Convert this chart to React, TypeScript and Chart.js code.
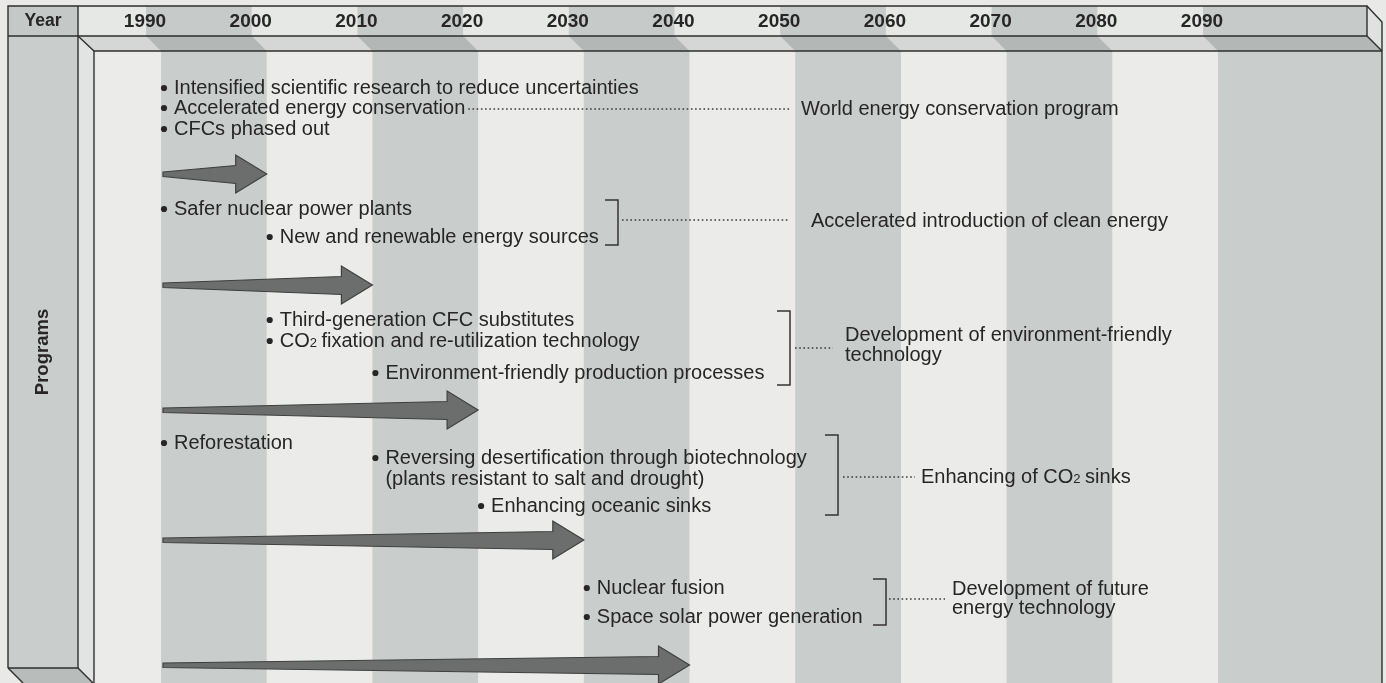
import React, { useEffect, useRef } from "react";
import { Chart, registerables } from "chart.js";
Chart.register(...registerables);

// ---------- data ----------
const yearTicks = [1990, 2000, 2010, 2020, 2030, 2040, 2050, 2060, 2070, 2080, 2090];
const yearTickLabels = ["1990", "2000", "2010", "2020", "2030", "2040", "2050", "2060", "2070", "2080", "2090"];
const shadedDecades = [1990, 2010, 2030, 2050, 2070, 2090];
const programStart = 1990;
const programEnds = [2000, 2010, 2020, 2030, 2040];

const group1Measures = ["Intensified scientific research to reduce uncertainties", "Accelerated energy conservation", "CFCs phased out"];
const group1Starts = [1990, 1990, 1990];
const group2Measures = ["Safer nuclear power plants", "New and renewable energy sources"];
const group2Starts = [1990, 2000];
const group3Measures = ["Third-generation CFC substitutes", "CO₂ fixation and re-utilization technology", "Environment-friendly production processes"];
const group3Starts = [2000, 2000, 2010];
const group4Measures = ["Reforestation", "Reversing desertification through biotechnology", "Enhancing oceanic sinks"];
const group4Starts = [1990, 2010, 2020];
const group4Note = "(plants resistant to salt and drought)";
const group5Measures = ["Nuclear fusion", "Space solar power generation"];
const group5Starts = [2030, 2030];

const programGoals = [
  ["World energy conservation program"],
  ["Accelerated introduction of clean energy"],
  ["Development of environment-friendly", "technology"],
  ["Enhancing of CO₂ sinks"],
  ["Development of future", "energy technology"],
];

// ---------- layout (pixels) ----------
const W = 1386, H = 683;
const PX1990 = 161, PX2090 = 1218;
const PPY = (PX2090 - PX1990) / 100;
const XMIN = 1990 - PX1990 / PPY;
const XMAX = XMIN + W / PPY;
const HDX = -15; // header stripe offset

const arrowRows = [174, 285, 410, 540, 665];
const g1Y = [88, 108, 129];
const g2Y = [209, 237];
const g3Y = [320, 341, 373];
const g4Y = [443, 458, 506];
const g4NoteY = 479;
const g5Y = [588, 617];

const FONT = '"Liberation Sans", Arial, Helvetica, sans-serif';
const TEXT = "#262626";

function drawRich(ctx: CanvasRenderingContext2D, s: string, x: number, y: number, size: number) {
  const parts = s.split("₂");
  let cx = x;
  parts.forEach((p, i) => {
    ctx.font = `${size}px ${FONT}`;
    ctx.fillText(p, cx, y);
    cx += ctx.measureText(p).width;
    if (i < parts.length - 1) {
      ctx.font = `${Math.round(size * 0.65)}px ${FONT}`;
      ctx.fillText("2", cx, y + size * 0.12);
      cx += ctx.measureText("2").width - 1;
    }
  });
  return cx;
}

const infographic = {
  id: "infographic",
  beforeDatasetsDraw(chart: any) {
    const ctx: CanvasRenderingContext2D = chart.ctx;
    const xs = chart.scales.x;
    const ys = chart.scales.y;
    const X = (v: number) => xs.getPixelForValue(v);
    const Y = (v: number) => ys.getPixelForValue(v);
    ctx.save();
    ctx.textBaseline = "middle";

    ctx.fillStyle = "#e9eae8";
    ctx.fillRect(0, 0, W, H);

    const L0 = 8, L1 = 78, B0 = 94, R0 = 1367, R1 = 1382, T0 = 6, T1 = 36, T2 = 51;
    const LIGHT = "#ebecea", GRAY = "#c9cdcb";

    // body
    ctx.fillStyle = LIGHT;
    ctx.fillRect(B0, T2, R1 - B0, H - T2);
    ctx.fillStyle = GRAY;
    shadedDecades.forEach((d) => {
      const a = X(d);
      const b = d === 2090 ? R1 : X(d + 10);
      ctx.fillRect(a, T2, b - a, H - T2);
    });

    // header front face
    ctx.fillStyle = "#e6e8e6";
    ctx.fillRect(L1, T0, R0 - L1, T1 - T0);
    ctx.fillStyle = "#c6cac8";
    shadedDecades.forEach((d) => {
      const a = X(d) + HDX;
      const b = d === 2090 ? R0 : X(d + 10) + HDX;
      ctx.fillRect(a, T0, b - a, T1 - T0);
    });
    // header underside face
    ctx.save();
    ctx.beginPath();
    ctx.moveTo(L1, T1); ctx.lineTo(R0, T1); ctx.lineTo(R1, T2); ctx.lineTo(B0, T2); ctx.closePath();
    ctx.fillStyle = "#d4d7d5";
    ctx.fill();
    ctx.clip();
    ctx.fillStyle = "#b3b7b5";
    shadedDecades.forEach((d) => {
      const a = X(d);
      const b = d === 2090 ? R1 + 20 : X(d + 10);
      ctx.beginPath();
      ctx.moveTo(a + HDX, T1); ctx.lineTo(b + HDX, T1); ctx.lineTo(b, T2); ctx.lineTo(a, T2); ctx.closePath();
      ctx.fill();
    });
    ctx.restore();
    // header right side face
    ctx.beginPath();
    ctx.moveTo(R0, T0); ctx.lineTo(R1, T0 + 16); ctx.lineTo(R1, T2); ctx.lineTo(R0, T1); ctx.closePath();
    ctx.fillStyle = "#dfe2e0";
    ctx.fill();

    // side face of programs column
    ctx.beginPath();
    ctx.moveTo(L1, T1); ctx.lineTo(B0, T2); ctx.lineTo(B0, H); ctx.lineTo(L1, H); ctx.closePath();
    ctx.fillStyle = "#e1e4e2";
    ctx.fill();
    ctx.fillStyle = "#c4c8c6";
    ctx.fillRect(L0, T0, L1 - L0, T1 - T0);
    ctx.fillStyle = "#c9cdcb";
    ctx.fillRect(L0, T1, L1 - L0, 668 - T1);
    ctx.beginPath();
    ctx.moveTo(L0, 668); ctx.lineTo(L1, 668); ctx.lineTo(L1 + 15, H); ctx.lineTo(L0 + 15, H); ctx.closePath();
    ctx.fillStyle = "#b8bcba";
    ctx.fill();

    // frame lines
    ctx.strokeStyle = "#2e2f2e";
    ctx.lineWidth = 1.4;
    const line = (pts: number[][]) => {
      ctx.beginPath();
      ctx.moveTo(pts[0][0], pts[0][1]);
      for (let i = 1; i < pts.length; i++) ctx.lineTo(pts[i][0], pts[i][1]);
      ctx.stroke();
    };
    line([[L0, 668], [L0, T0], [R0, T0], [R0, T1], [L0, T1]]);
    line([[L1, T0], [L1, 668]]);
    line([[R0, T0], [R1, T0 + 16], [R1, H]]);
    line([[R0, T1], [R1, T2]]);
    line([[L1, T1], [B0, T2], [R1, T2]]);
    line([[B0, T2], [B0, H]]);
    line([[L0, 668], [L1, 668]]);
    line([[L0, 668], [L0 + 15, H]]);
    line([[L1, 668], [L1 + 15, H]]);

    // header texts
    ctx.fillStyle = TEXT;
    ctx.textAlign = "center";
    ctx.font = `bold 17.5px ${FONT}`;
    ctx.fillText("Year", (L0 + L1) / 2, 21.5);
    ctx.font = `bold 19px ${FONT}`;
    yearTicks.forEach((yr, i) => {
      ctx.fillText(yearTickLabels[i], X(yr) + HDX - 1, 21.5);
    });
    ctx.save();
    ctx.translate((L0 + L1) / 2, 352);
    ctx.rotate(-Math.PI / 2);
    ctx.font = `bold 18.5px ${FONT}`;
    ctx.fillText("Programs", 0, 0);
    ctx.restore();
    ctx.textAlign = "left";

    // arrows
    programEnds.forEach((end, i) => {
      const y = Y(arrowRows[i]);
      const tail = X(programStart) + 2;
      const tip = X(end);
      const hb = tip - 31;
      ctx.beginPath();
      ctx.moveTo(tail, y - 2);
      ctx.lineTo(hb, y - 8.5);
      ctx.lineTo(hb, y - 19);
      ctx.lineTo(tip, y);
      ctx.lineTo(hb, y + 19);
      ctx.lineTo(hb, y + 9.5);
      ctx.lineTo(tail, y + 2.5);
      ctx.closePath();
      ctx.fillStyle = "#6b6e6c";
      ctx.fill();
      ctx.strokeStyle = "#3e403f";
      ctx.lineWidth = 1.2;
      ctx.stroke();
    });

    // measures
    const SZ = 20;
    const bullet = (yr: number, y: number) => {
      ctx.beginPath();
      ctx.arc(X(yr) + 3, Y(y), 3.1, 0, Math.PI * 2);
      ctx.fillStyle = TEXT;
      ctx.fill();
    };
    const measure = (txt: string, yr: number, y: number) => {
      bullet(yr, y);
      ctx.fillStyle = TEXT;
      return drawRich(ctx, txt, X(yr) + 13, Y(y), SZ);
    };
    const dotted = (x0: number, x1: number, y: number) => {
      ctx.save();
      ctx.setLineDash([1.6, 2.6]);
      ctx.strokeStyle = "#3a3a3a";
      ctx.lineWidth = 1.3;
      ctx.beginPath();
      ctx.moveTo(x0, Y(y));
      ctx.lineTo(x1, Y(y));
      ctx.stroke();
      ctx.restore();
    };
    const bracket = (x: number, y0: number, y1: number) => {
      ctx.strokeStyle = "#333";
      ctx.lineWidth = 1.5;
      ctx.beginPath();
      ctx.moveTo(x - 13, Y(y0));
      ctx.lineTo(x, Y(y0));
      ctx.lineTo(x, Y(y1));
      ctx.lineTo(x - 13, Y(y1));
      ctx.stroke();
    };
    const goal = (lines: string[], x: number, ys0: number[]) => {
      ctx.fillStyle = TEXT;
      lines.forEach((l, i) => drawRich(ctx, l, x, Y(ys0[i]), SZ));
    };

    const ends: number[] = [];
    group1Measures.forEach((m, i) => ends.push(measure(m, group1Starts[i], g1Y[i])));
    dotted(ends[1] + 3, 790, g1Y[1] + 1);
    goal(programGoals[0], 801, [g1Y[1] + 1]);

    group2Measures.forEach((m, i) => measure(m, group2Starts[i], g2Y[i]));
    bracket(618, 200, 245);
    dotted(622, 790, 220);
    goal(programGoals[1], 811, [221]);

    group3Measures.forEach((m, i) => measure(m, group3Starts[i], g3Y[i]));
    bracket(790, 311, 385);
    dotted(795, 833, 348);
    goal(programGoals[2], 845, [335, 355]);

    group4Measures.forEach((m, i) => measure(m, group4Starts[i], g4Y[i]));
    ctx.fillStyle = TEXT;
    drawRich(ctx, group4Note, X(group4Starts[1]) + 13, Y(g4NoteY), SZ);
    bracket(838, 435, 515);
    dotted(843, 915, 477);
    goal(programGoals[3], 921, [477]);

    group5Measures.forEach((m, i) => measure(m, group5Starts[i], g5Y[i]));
    bracket(886, 579, 625);
    dotted(889, 945, 599);
    goal(programGoals[4], 952, [589, 608]);

    ctx.restore();
  },
};

export default function App() {
  const ref = useRef<HTMLCanvasElement | null>(null);
  useEffect(() => {
    if (!ref.current) return;
    const chart = new Chart(ref.current, {
      type: "scatter",
      data: {
        datasets: [
          {
            label: "Program horizons",
            data: programEnds.map((e, i) => ({ x: e, y: arrowRows[i] })),
            pointRadius: 0,
            showLine: false,
          },
        ],
      },
      options: {
        animation: false,
        responsive: true,
        maintainAspectRatio: false,
        layout: { padding: 0 },
        events: [],
        scales: {
          x: { type: "linear", min: XMIN, max: XMAX, display: false },
          y: { type: "linear", min: 0, max: H, reverse: true, display: false },
        },
        plugins: { legend: { display: false }, tooltip: { enabled: false } },
      },
      plugins: [infographic],
    });
    return () => chart.destroy();
  }, []);
  return (
    <div style={{ position: "fixed", left: 0, top: 0, width: W, height: H, background: "#e9eae8" }}>
      <canvas ref={ref} />
    </div>
  );
}
